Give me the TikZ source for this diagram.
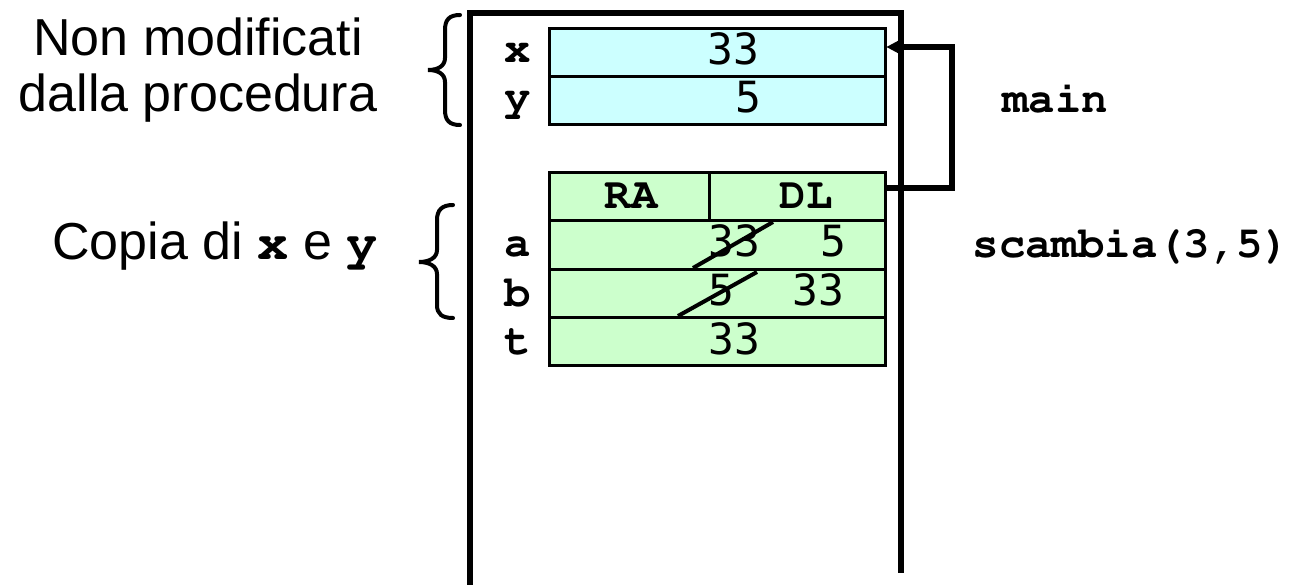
\documentclass[tikz,border=0pt]{standalone}
\usepackage[T1]{fontenc}
\usepackage{fontspec}
\setmainfont{Liberation Sans}
\newfontfamily\monov{DejaVu Sans Mono}
\newcommand\courb{\usefont{T1}{pcr}{b}{n}}
\usetikzlibrary{arrows.meta}
\definecolor{cyancell}{HTML}{CCFFFF}
\definecolor{greencell}{HTML}{CCFFCC}
\tikzset{
  cellbox/.style={draw=black, line width=3pt, inner sep=0pt, minimum height=48pt},
  cyanbox/.style={cellbox, fill=cyancell, minimum width=336pt},
  greenbox/.style={cellbox, fill=greencell, minimum width=336pt},
  lbl/.style={anchor=base, inner sep=0pt, font=\courb\fontsize{44}{46}\selectfont},
  val/.style={anchor=base, inner sep=0pt, font=\monov\fontsize{43}{46}\selectfont},
  sanstxt/.style={anchor=base, inner sep=0pt, font=\fontsize{52}{56}\selectfont},
  frameline/.style={line width=6pt, line join=miter},
  link/.style={line width=6pt, line join=miter, -{Stealth[length=17pt,width=18pt,inset=4pt]}},
  strike/.style={line width=4pt},
  bracepath/.style={line width=4pt, line cap=round}
}
\begin{document}
\begin{tikzpicture}[x=1pt, y=-1pt]
\path[use as bounding box] (0,0) rectangle (1292,585);

% stack frame
\coordinate (fbl) at (470,585);
\coordinate (ftl) at (470,13);
\coordinate (ftr) at (901,13);
\coordinate (fbr) at (901,573);
\draw[frameline] (fbl) -- (ftl) -- (ftr) -- (fbr);

% main cells
\node[cyanbox] (cx) at (717,53) {};
\node[cyanbox] (cy) at (717,101) {};
% scambia cells
\node[cellbox, fill=greencell, minimum width=160pt] (cra) at (629,197) {};
\node[cellbox, fill=greencell, minimum width=176pt] (cdl) at (797,197) {};
\node[greenbox] (ca) at (717,245) {};
\node[greenbox] (cb) at (717,293) {};
\node[greenbox] (ct) at (717,341) {};

% cell labels
\node[lbl] (lx) at (518,63) {x};
\node[lbl] (ly) at (518,111) {y};
\node[lbl] (la) at (518,257) {a};
\node[lbl] (lb) at (518,306) {b};
\node[lbl] (lt) at (518,354) {t};
\node[lbl] (tra) at (631,209) {RA};
\node[lbl] (tdl) at (806,209) {DL};

% values
\node[val] (vx) at (733,65) {33};
\node[val] (vy) at (748,113) {5};
\node[val] (va1) at (734,257) {33};
\node[val] (va2) at (833,257) {5};
\node[val] (vb1) at (721,305) {5};
\node[val] (vb2) at (818,305) {33};
\node[val] (vt) at (734,354) {33};

% strike-through lines
\coordinate (sa1) at (693,268);
\coordinate (sa2) at (773,222);
\coordinate (sb1) at (678,316);
\coordinate (sb2) at (757,272);
\draw[strike] (sa1) -- (sa2);
\draw[strike] (sb1) -- (sb2);

% dynamic link
\draw[link] ([yshift=9pt]cdl.east) -- ++(65,0) |- ([yshift=6pt]cx.east);

% frame names
\node[lbl] (tmain) at (1055,113) {main};
\node[lbl] (tsc) at (1131,258) {scambia(3,5)};

% left texts
\node[sanstxt] (t1) at (198,56) {Non modificati};
\node[sanstxt] (t2) at (198,112) {dalla procedura};
\node[sanstxt] (t3) at (215,259) {Copia di {\courb x} e {\courb y}};

% braces
\draw[bracepath] (460,15) .. controls (449,15) and (445,20) .. (445,30) -- (445,58)
  .. controls (445,66) and (438,70) .. (428,70)
  .. controls (438,70) and (445,74) .. (445,82) -- (445,110)
  .. controls (445,120) and (449,125) .. (460,125);
\draw[bracepath] (453,205) .. controls (442,205) and (437,210) .. (437,220) -- (437,250)
  .. controls (437,258) and (429,262) .. (419,262)
  .. controls (429,262) and (437,266) .. (437,274) -- (437,305)
  .. controls (437,314) and (442,318) .. (453,318);
\end{tikzpicture}
\end{document}
